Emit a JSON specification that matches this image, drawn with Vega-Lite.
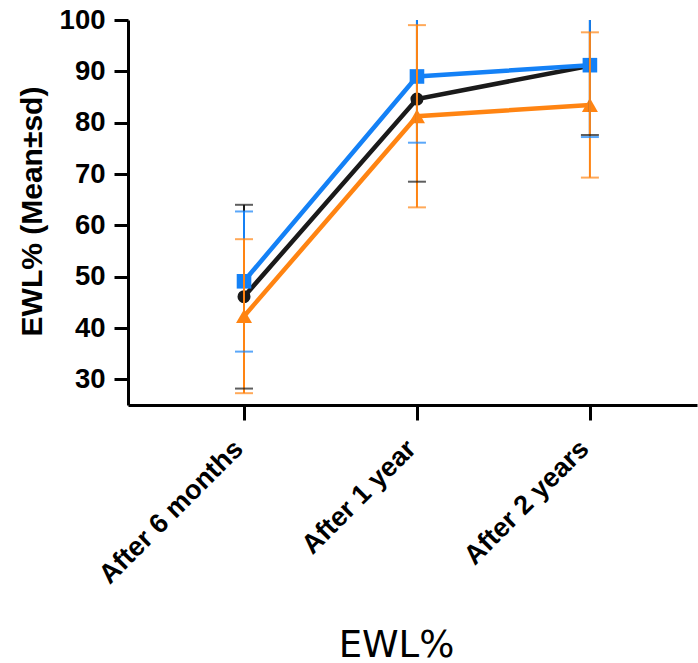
{
  "$schema": "https://vega.github.io/schema/vega-lite/v6.json",
  "width": 569,
  "height": 385,
  "autosize": "none",
  "padding": {"left": 128, "top": 20, "right": 1, "bottom": 258},
  "background": "white",
  "config": {"view": {"stroke": null}},
  "data": {
    "values": [
      {"period": "After 6 months", "group": "Group 1", "mean": 46.1, "lo": 28.2, "hi": 64.0},
      {"period": "After 6 months", "group": "Group 2", "mean": 49.1, "lo": 35.4, "hi": 62.7},
      {"period": "After 6 months", "group": "Group 3", "mean": 42.3, "lo": 27.3, "hi": 57.3},
      {"period": "After 1 year", "group": "Group 1", "mean": 84.6, "lo": 68.5, "hi": 100.7},
      {"period": "After 1 year", "group": "Group 2", "mean": 89.0, "lo": 76.1, "hi": 101.9},
      {"period": "After 1 year", "group": "Group 3", "mean": 81.25, "lo": 63.5, "hi": 99.0},
      {"period": "After 2 years", "group": "Group 1", "mean": 91.1, "lo": 77.6, "hi": 104.6},
      {"period": "After 2 years", "group": "Group 2", "mean": 91.2, "lo": 77.2, "hi": 105.2},
      {"period": "After 2 years", "group": "Group 3", "mean": 83.45, "lo": 69.3, "hi": 97.6}
    ]
  },
  "encoding": {
    "x": {
      "field": "period",
      "type": "ordinal",
      "sort": ["After 6 months", "After 1 year", "After 2 years"],
      "scale": {"type": "point", "padding": 0.645, "align": 0.52},
      "axis": {
        "title": "EWL%",
        "titleFont": "DejaVu Sans",
        "titleFontSize": 37,
        "titleFontWeight": "normal",
        "titleColor": "black",
        "titleX": 268,
        "titleY": 251,
        "titleAlign": "center",
        "titleBaseline": "alphabetic",
        "labelAngle": -45,
        "labelAlign": "right",
        "labelBaseline": "alphabetic",
        "labelFont": "Liberation Sans",
        "labelFontSize": 27,
        "labelFontWeight": "bold",
        "labelColor": "black",
        "labelPadding": 30,
        "labelLimit": 400,
        "labelOverlap": false,
        "domainColor": "black",
        "domainWidth": 3,
        "tickColor": "black",
        "tickWidth": 3,
        "tickSize": 15,
        "grid": false
      }
    },
    "color": {
      "field": "group",
      "type": "nominal",
      "scale": {"domain": ["Group 1", "Group 2", "Group 3"], "range": ["#1a1a1a", "#1481f6", "#ff8412"]},
      "legend": null
    }
  },
  "layer": [
    {
      "mark": {"type": "line", "strokeWidth": 4.5, "clip": true},
      "encoding": {
        "y": {
          "field": "mean",
          "type": "quantitative",
          "scale": {"domain": [25, 100], "nice": false, "zero": false},
          "axis": {
            "title": "EWL% (Mean±sd)",
            "titleFont": "Liberation Sans",
            "titleFontSize": 30,
            "titleFontWeight": "bold",
            "titleColor": "black",
            "titleX": -87,
            "titleY": 191,
            "titleAngle": -90,
            "titleAlign": "center",
            "titleBaseline": "alphabetic",
            "values": [30, 40, 50, 60, 70, 80, 90, 100],
            "labelFont": "Liberation Sans",
            "labelFontSize": 27.5,
            "labelFontWeight": "bold",
            "labelColor": "black",
            "labelPadding": 9,
            "domainColor": "black",
            "domainWidth": 3,
            "tickColor": "black",
            "tickWidth": 3,
            "tickSize": 14,
            "grid": false
          }
        }
      }
    },
    {
      "mark": {"type": "point", "filled": true, "opacity": 1, "clip": true},
      "encoding": {
        "y": {"field": "mean", "type": "quantitative"},
        "shape": {
          "field": "group",
          "type": "nominal",
          "scale": {"domain": ["Group 1", "Group 2", "Group 3"], "range": ["circle", "square", "triangle-up"]},
          "legend": null
        },
        "size": {
          "field": "group",
          "type": "nominal",
          "scale": {"domain": ["Group 1", "Group 2", "Group 3"], "range": [170, 256, 270]},
          "legend": null
        }
      }
    },
    {
      "mark": {"type": "rule", "strokeWidth": 2, "clip": true},
      "encoding": {
        "y": {"field": "lo", "type": "quantitative"},
        "y2": {"field": "hi"}
      }
    },
    {
      "mark": {"type": "tick", "thickness": 2, "size": 18, "clip": true},
      "encoding": {
        "y": {"field": "lo", "type": "quantitative"}
      }
    },
    {
      "mark": {"type": "tick", "thickness": 2, "size": 18, "clip": true},
      "encoding": {
        "y": {"field": "hi", "type": "quantitative"}
      }
    }
  ]
}
